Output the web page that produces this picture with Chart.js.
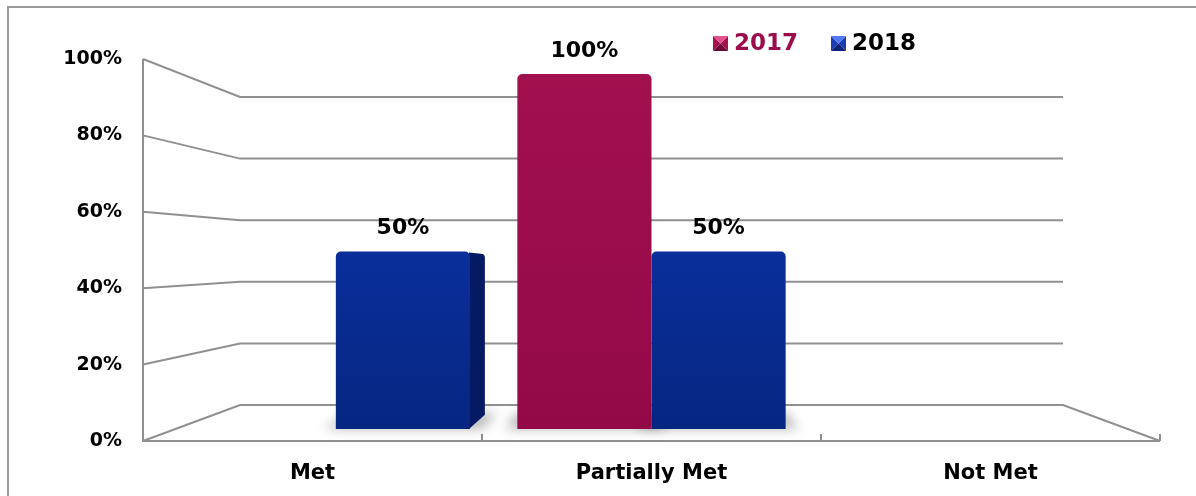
<!DOCTYPE html>
<html>
<head>
<meta charset="utf-8">
<script src="https://cdn.jsdelivr.net/npm/chart.js@4/dist/chart.umd.min.js"></script>
<style>
  html, body { margin: 0; padding: 0; background: #ffffff; }
  #wrap { width: 1196px; height: 496px; position: relative; }
</style>
</head>
<body>
<div id="wrap"><canvas id="c" width="1196" height="496"></canvas></div>
<script>
// ---- data ----
const categories = ['Met', 'Partially Met', 'Not Met'];
const seriesNames = ['2017', '2018'];
const values2017 = [0, 100, 0];
const values2018 = [50, 50, 0];
const yTickValues = [0, 20, 40, 60, 80, 100];

// ---- style / layout ----
const FONT = "'DejaVu Sans', sans-serif";
const GRID = '#909090';
const BACK_DX = 97, BACK_TOP = 38, BACK_BOTTOM = 36;      // back wall inset from front plane
const BAR_DX = 35, BAR_TOP = 15, BAR_BOTTOM = 12;         // bar front-face plane inset
const BAR_DEPTH_RATIO = 0.918;                            // bar back face scale vs front face
const legendColors = ['#9c0c4c', '#000000'];
const markerColors = [
  {top: '#e4508a', side: '#a3114f', bottom: '#6c0837'},
  {top: '#5078f0', side: '#1a3cb4', bottom: '#0a2174'}
];
const faceColors = [
  {top: '#a2104e', bottom: '#930948', side: '#6a0633'},
  {top: '#0b37b2', bottom: '#072682', side: '#041b63'}
];

function frontGradient(ctx, idx) {
  const chart = ctx.chart;
  const yb = chart.scales.yBar;
  if (!yb || !chart.chartArea) return faceColors[idx].top;
  const g = chart.ctx.createLinearGradient(0, yb.top, 0, yb.bottom);
  g.addColorStop(0, faceColors[idx].top);
  g.addColorStop(1, faceColors[idx].bottom);
  return g;
}

function vanishing(chart) {
  const a = chart.chartArea;
  const s = ((a.bottom - BACK_BOTTOM) - (a.top + BACK_TOP)) / (a.bottom - a.top);
  return { cx: (a.left + a.right) / 2, cy: a.bottom - BACK_BOTTOM / (1 - s) };
}

const planePlugin = {
  id: 'planes',
  afterLayout(chart) {
    const a = chart.chartArea;
    const xb = chart.scales.xBar, yb = chart.scales.yBar, yk = chart.scales.yBack;
    xb.left = a.left + BAR_DX; xb.right = a.right - BAR_DX; xb.width = xb.right - xb.left; xb.configure();
    yb.top = a.top + BAR_TOP; yb.bottom = a.bottom - BAR_BOTTOM; yb.height = yb.bottom - yb.top; yb.configure();
    yk.top = a.top + BACK_TOP; yk.bottom = a.bottom - BACK_BOTTOM; yk.height = yk.bottom - yk.top; yk.configure();
  },
  beforeDraw(chart) {
    const c = chart.ctx;
    c.save();
    c.strokeStyle = '#9a9a9a';
    c.lineWidth = 2;
    c.beginPath();
    c.moveTo(8, chart.height);
    c.lineTo(8, 7);
    c.lineTo(chart.width, 7);
    c.stroke();
    c.restore();
  },
  beforeDatasetsDraw(chart) {
    const c = chart.ctx, a = chart.chartArea;
    const ys = chart.scales.y, yk = chart.scales.yBack, xs = chart.scales.x;
    const bl = a.left + BACK_DX, br = a.right - BACK_DX;
    c.save();
    c.strokeStyle = GRID;
    c.lineWidth = 2;
    c.lineJoin = 'miter';
    yTickValues.forEach(v => {
      const yf = ys.getPixelForValue(v), yb = yk.getPixelForValue(v);
      c.beginPath();
      c.moveTo(a.left, yf);
      c.lineTo(bl, yb);
      c.lineTo(br, yb);
      if (v === 0) c.lineTo(a.right, yf);
      c.stroke();
    });
    // front axis and floor edge
    const y0 = ys.getPixelForValue(0);
    c.beginPath();
    c.moveTo(a.left, ys.getPixelForValue(100));
    c.lineTo(a.left, y0);
    c.lineTo(a.right, y0);
    c.stroke();
    for (let i = 0; i < categories.length; i++) {
      const xt = xs.getPixelForValue(i + 0.5);
      c.beginPath();
      c.moveTo(xt, y0);
      c.lineTo(xt, y0 - 7);
      c.stroke();
    }
    // bar shadows and side faces
    const vp = vanishing(chart);
    const proj = (x, y) => [vp.cx + (x - vp.cx) * BAR_DEPTH_RATIO, vp.cy + (y - vp.cy) * BAR_DEPTH_RATIO];
    chart.data.datasets.forEach((ds, di) => {
      const meta = chart.getDatasetMeta(di);
      meta.data.forEach(bar => {
        const L = bar.x - bar.width / 2, R = bar.x + bar.width / 2, T = bar.y, B = bar.base;
        if (B - T < 1) return;
        const [Lb, Bb] = proj(L, B), [Rb] = proj(R, B), [, Tb] = proj(R, T);
        // soft floor shadow
        c.save();
        c.filter = 'blur(6px)';
        c.fillStyle = 'rgba(0,0,0,0.28)';
        c.beginPath();
        c.moveTo(L - 12, B);
        c.lineTo(R + 12, B);
        c.lineTo(Rb + 12, Bb - 2);
        c.lineTo(Lb - 12, Bb - 2);
        c.closePath();
        c.fill();
        c.restore();
        c.fillStyle = faceColors[di].side;
        if (R < vp.cx) {
          c.beginPath();
          c.moveTo(R - 1, T + 1);
          c.lineTo(Rb - 4, Tb + 2);
          c.quadraticCurveTo(Rb, Tb + 2, Rb, Tb + 6);
          c.lineTo(Rb, Bb);
          c.lineTo(R - 1, B);
          c.closePath();
          c.fill();
        }
      });
    });
    c.restore();
  },
  afterDatasetsDraw(chart) {
    const c = chart.ctx;
    c.save();
    c.font = 'bold 22px ' + FONT;
    c.fillStyle = '#000';
    c.textAlign = 'center';
    c.textBaseline = 'middle';
    chart.data.datasets.forEach((ds, di) => {
      const meta = chart.getDatasetMeta(di);
      meta.data.forEach((bar, i) => {
        const v = ds.data[i];
        if (!v) return;
        c.fillText(v + '%', bar.x, bar.y - 23);
      });
    });
    // legend
    let x = 713;
    const ym = 44;
    c.textAlign = 'left';
    chart.data.datasets.forEach((ds, di) => {
      const m = markerColors[di], s = 15, top = ym - 8;
      const tri = (pts, col) => { c.fillStyle = col; c.beginPath(); c.moveTo(pts[0], pts[1]); c.lineTo(pts[2], pts[3]); c.lineTo(pts[4], pts[5]); c.closePath(); c.fill(); };
      const cx = x + s / 2, cy = top + s / 2;
      tri([x, top, x, top + s, cx, cy], m.side);
      tri([x + s, top, x + s, top + s, cx, cy], m.side);
      tri([x, top + s, x + s, top + s, cx, cy], m.bottom);
      tri([x, top, x + s, top, cx, cy], m.top);
      c.fillStyle = legendColors[di];
      c.font = 'bold 23px ' + FONT;
      c.fillText(ds.label, x + 21, ym);
      x += 21 + c.measureText(ds.label).width + 33;
    });
    c.restore();
  }
};

Chart.defaults.font.family = FONT;

new Chart(document.getElementById('c'), {
  type: 'bar',
  data: {
    labels: categories,
    datasets: [
      { label: seriesNames[0], data: values2017, xAxisID: 'xBar', yAxisID: 'yBar',
        backgroundColor: ctx => frontGradient(ctx, 0),
        borderRadius: {topLeft: 5, topRight: 5}, borderSkipped: 'bottom',
        categoryPercentage: 0.85, barPercentage: 1.0 },
      { label: seriesNames[1], data: values2018, xAxisID: 'xBar', yAxisID: 'yBar',
        backgroundColor: ctx => frontGradient(ctx, 1),
        borderRadius: {topLeft: 5, topRight: 5}, borderSkipped: 'bottom',
        categoryPercentage: 0.85, barPercentage: 1.0 }
    ]
  },
  options: {
    responsive: false,
    animation: false,
    devicePixelRatio: 1,
    layout: { padding: { top: 59, right: 36, bottom: 0, left: 0 } },
    plugins: { legend: { display: false }, tooltip: { enabled: false } },
    scales: {
      x: {
        type: 'category', position: 'bottom', offset: true,
        grid: { display: false, drawTicks: false }, border: { display: false },
        ticks: { color: '#000', font: { size: 21, weight: 'bold' }, padding: 20, maxRotation: 0, autoSkip: false },
        afterFit: s => { s.height = 55; }
      },
      y: {
        type: 'linear', position: 'left', min: 0, max: 100,
        grid: { display: false, drawTicks: false }, border: { display: false },
        afterBuildTicks: s => { s.ticks = yTickValues.map(v => ({ value: v })); },
        ticks: { color: '#000', font: { size: 19, weight: 'bold' }, padding: 21, callback: v => v + '%' },
        afterFit: s => { s.width = 143; }
      },
      xBar: { type: 'category', display: false, offset: true },
      yBar: { type: 'linear', display: false, min: 0, max: 100 },
      yBack: { type: 'linear', display: false, min: 0, max: 100 }
    }
  },
  plugins: [planePlugin]
});
</script>
</body>
</html>
